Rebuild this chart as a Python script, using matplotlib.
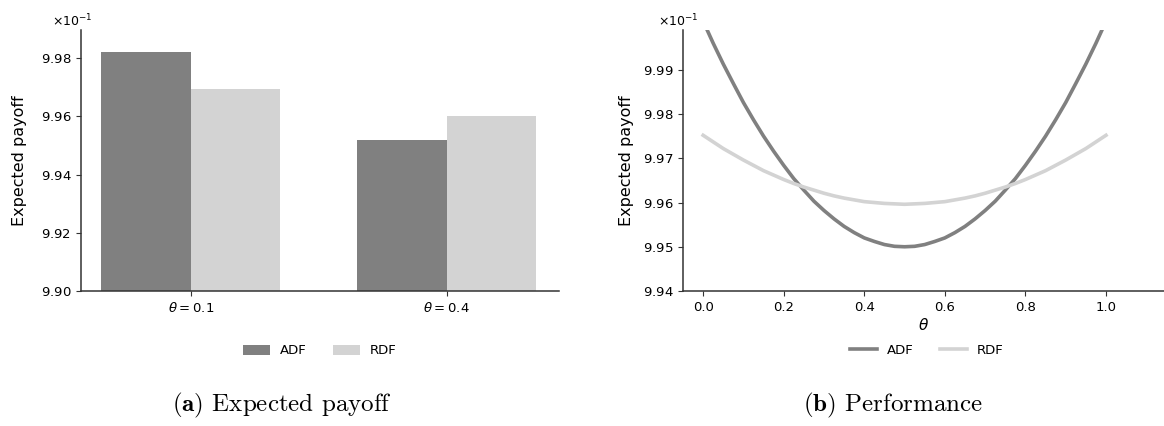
import numpy as np
import matplotlib
matplotlib.use("Agg")
import matplotlib.pyplot as plt
from matplotlib.ticker import ScalarFormatter

# bar chart values (real units, shown as x10^-1)
groups = [r"$\theta = 0.1$", r"$\theta = 0.4$"]
adf_bar = [0.99820, 0.99520]
rdf_bar = [0.99695, 0.99602]

# curves
theta = [0.0, 0.025, 0.05, 0.075, 0.1, 0.125, 0.15, 0.175, 0.2, 0.225, 0.25,
         0.275, 0.3, 0.325, 0.35, 0.375, 0.4, 0.425, 0.45, 0.475, 0.5,
         0.525, 0.55, 0.575, 0.6, 0.625, 0.65, 0.675, 0.7, 0.725, 0.75,
         0.775, 0.8, 0.825, 0.85, 0.875, 0.9, 0.925, 0.95, 0.975, 1.0]
adf_curve = [1.00010, 0.99960, 0.99913, 0.99869, 0.99826, 0.99787, 0.99750,
             0.99716, 0.99684, 0.99654, 0.99628, 0.99603, 0.99582, 0.99563,
             0.99546, 0.99532, 0.99520, 0.99512, 0.99505, 0.99501, 0.99500,
             0.99501, 0.99505, 0.99512, 0.99520, 0.99532, 0.99546, 0.99563,
             0.99582, 0.99603, 0.99628, 0.99654, 0.99684, 0.99716, 0.99750,
             0.99787, 0.99826, 0.99869, 0.99913, 0.99960, 1.00010]
rdf_curve = [0.99752, 0.99737, 0.99722, 0.99709, 0.99696, 0.99684, 0.99672,
             0.99662, 0.99652, 0.99643, 0.99635, 0.99628, 0.99621, 0.99615,
             0.99610, 0.99606, 0.99602, 0.99600, 0.99598, 0.99597, 0.99596,
             0.99597, 0.99598, 0.99600, 0.99602, 0.99606, 0.99610, 0.99615,
             0.99621, 0.99628, 0.99635, 0.99643, 0.99652, 0.99662, 0.99672,
             0.99684, 0.99696, 0.99709, 0.99722, 0.99737, 0.99752]

c_adf = "#808080"
c_rdf = "#d3d3d3"
fs = 9.5

plt.rcParams["font.family"] = ["DejaVu Sans"]
plt.rcParams["font.size"] = fs

fig = plt.figure(figsize=(11.64, 4.26), dpi=100)
ax1 = fig.add_axes([81/1164, 135/426, 478/1164, 261/426])
ax2 = fig.add_axes([683/1164, 135/426, 481/1164, 261/426])


def style(ax, off_x, pad):
    ax.spines["top"].set_visible(False)
    ax.spines["right"].set_visible(False)
    for s in ["left", "bottom"]:
        ax.spines[s].set_color("#333333")
        ax.spines[s].set_linewidth(1.1)
    ax.tick_params(labelsize=fs, length=3.5, color="#333333")
    f = ScalarFormatter(useMathText=True, useOffset=False)
    f.set_powerlimits((0, 0))
    ax.yaxis.set_major_formatter(f)
    ax.set_ylabel("Expected payoff", fontsize=11.5, labelpad=pad)
    off = ax.yaxis.get_offset_text()
    off.set_fontsize(9)
    off.set_x(off_x)


# (a) bars
x = np.arange(len(groups))
w = 0.35
ax1.bar(x - w/2, adf_bar, w, color=c_adf, label="ADF")
ax1.bar(x + w/2, rdf_bar, w, color=c_rdf, label="RDF")
ax1.set_xticks(x)
ax1.set_xticklabels(groups)
ax1.set_xlim(-0.43, 1.44)
ax1.set_ylim(0.990, 0.99897)
ax1.set_yticks([0.990, 0.992, 0.994, 0.996, 0.998])
style(ax1, -0.06, 10)
ax1.legend(loc="center", bbox_to_anchor=(320/1164, 1 - 351/426),
           bbox_transform=fig.transFigure, ncol=2, frameon=False, fontsize=fs)

# (b) curves
ax2.plot(theta, adf_curve, color=c_adf, lw=2.6, label="ADF")
ax2.plot(theta, rdf_curve, color=c_rdf, lw=2.6, label="RDF")
ax2.set_xlim(-0.05, 1.144)
ax2.set_xticks([0.0, 0.2, 0.4, 0.6, 0.8, 1.0])
ax2.set_ylim(0.994, 0.9999)
ax2.set_yticks([0.994, 0.995, 0.996, 0.997, 0.998, 0.999])
ax2.set_xlabel(r"$\theta$", fontsize=11, labelpad=2)
style(ax2, -0.052, 6)
ax2.legend(loc="center", bbox_to_anchor=(927/1164, 1 - 350/426),
           bbox_transform=fig.transFigure, ncol=2, frameon=False, fontsize=fs)

# captions
fig.text(282/1164, 1 - 411/426, r"$\mathbf{(a)}$ Expected payoff",
         ha="center", va="baseline", family="cmr10", math_fontfamily="cm", fontsize=18)
fig.text(893/1164, 1 - 411/426, r"$\mathbf{(b)}$ Performance",
         ha="center", va="baseline", family="cmr10", math_fontfamily="cm", fontsize=18)

fig.savefig("out.png", dpi=100)
